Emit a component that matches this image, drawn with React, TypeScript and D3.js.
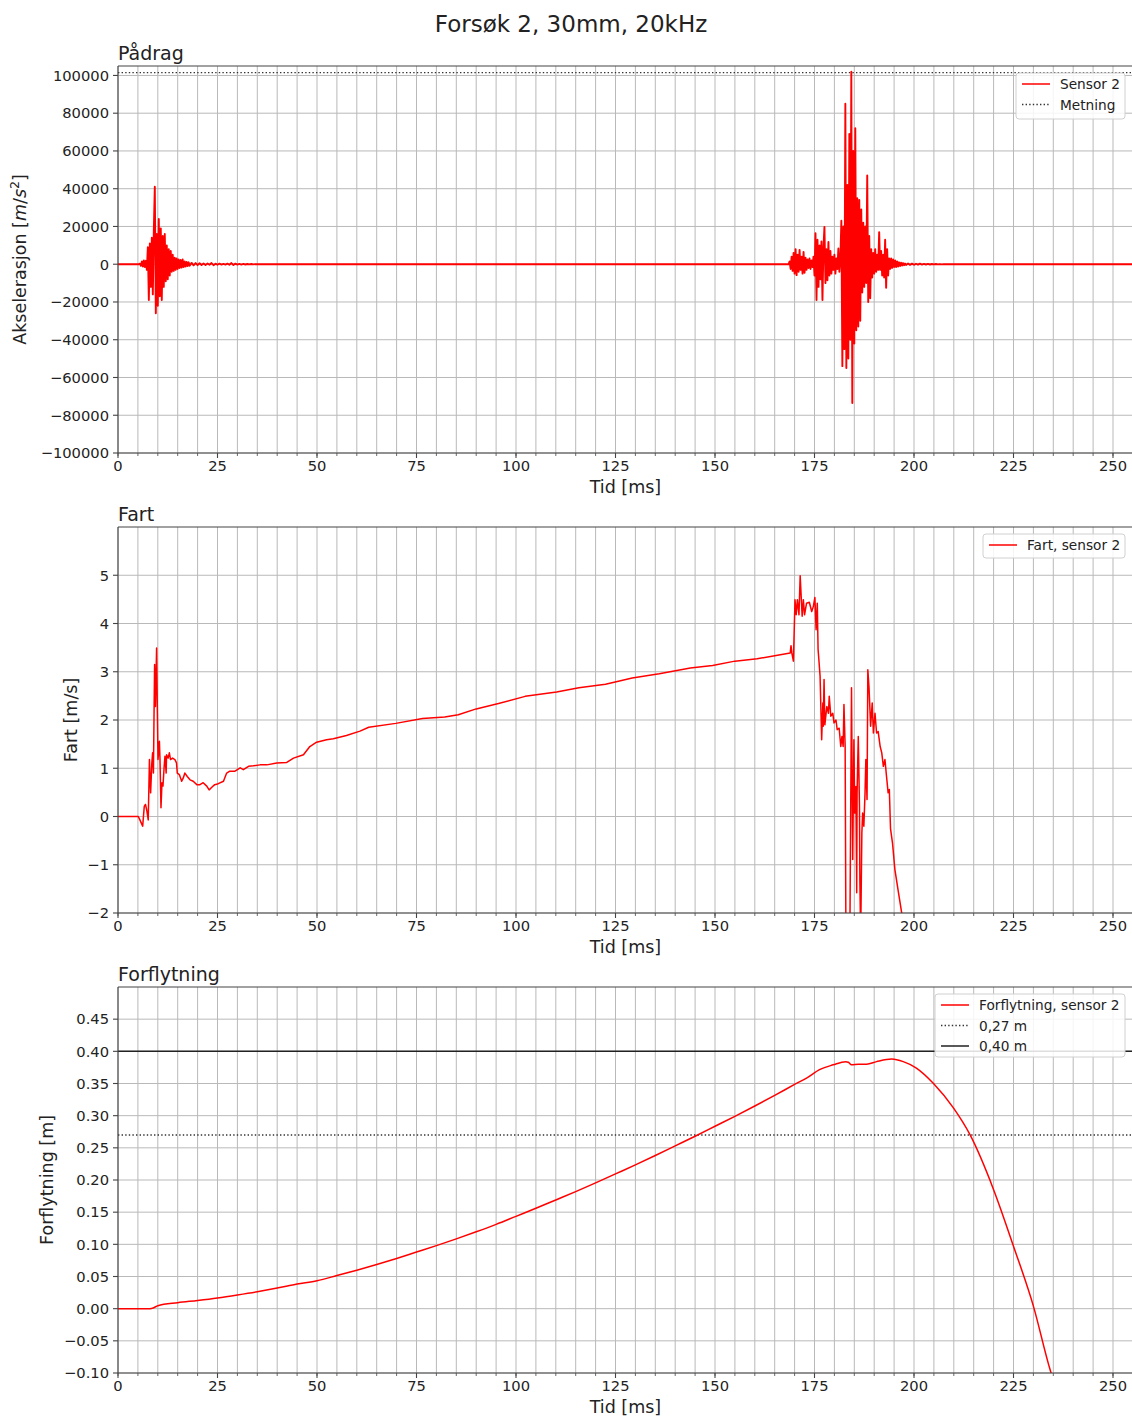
import React from 'react';
import * as d3 from 'd3';

const FIG_TITLE = 'Forsøk 2, 30mm, 20kHz';
const X_LABEL = 'Tid [ms]';
const xDomain: [number, number] = [0, 255];
const xMajorTicks = [0, 25, 50, 75, 100, 125, 150, 175, 200, 225, 250];
const xMinorTicks = d3.range(0, 256, 5);

// ---------- Pådrag (acceleration) ----------
const accBurst1Start = 5.0;
const accBurst1Step = 0.25;
const accBurst1 = [
  0, 0, 300, -800, 1500, -1200, 2000, -1500, 1800, -3000, 9000, -19000, 11000, -12000, 14000, -16000,
  18000, 41000, -26000, 16000, -22000, 24000, -17000, 19000, -19000, 15000, -12000, 16000, -9000, 10000,
  -8000, 8000, -6000, 7000, -4000, 5000, -3500, 3500, -3000, 3000, -2500, 2500, -2000, 2200, -1800, 2500,
  -1500, 1500, -1200, 1200, -1000, 1000, -800,
];
const accTail1Start = 18.5;
const accTail1Step = 0.5;
const accTail1 = [
  700, -600, 600, -500, 500, -400, 400, -400, 350, -300, 600, -500, 300, -300, 300, -200, 200, -200, 300,
  -300, 600, -400, 300, -200, 200, -200, 150, -150, 100, -100, 100, -80, 80, -50, 50, 0,
];
const accBurst2Start = 168.5;
const accBurst2Step = 0.25;
const accBurst2 = [
  0, 1500, -2500, 4000, -3500, 6000, -5000, 8000, -5800, 5000, -4000, 7500, -3000, 4000, -5000, 6500,
  -4500, 3500, -3000, 2500, -2000, 3000, -2500, 2000, -1500, 4000, -6000, 16400, -19000, 13000, -12000,
  10000, -8000, 12000, -19000, 9000, 19800, -10000, 8000, -8500, 11800, -6000, 7000, -5000, 4000, -3000,
  5000, -5000, 3000, -2500, 8300, -4000, 3000, 23000, -54000, 20000, -45000, 85000, -55000, 42000, -50000,
  69000, -40000, 102000, -73500, 60000, -42000, 72000, -35000, 35000, -33000, 34000, -30000, 29000, -15000,
  22000, -12000, 20000, -10000, 47000, -20000, 15000, -18000, 8000, -7000, 6000, -5000, 8000, -4000, 5000,
  -3000, 17000, -3000, 7000, -6000, 5000, -7000, 13000, -12500, 8000, -6000, 3000, -2500, 3000, -2000,
  2500, -1500, 2000, -1500, 1500, -1200, 1000, -1000, 800, -700, 600, -500, 400, -400,
];
const accTail2Start = 198.5;
const accTail2Step = 0.5;
const accTail2 = [
  400, -350, 300, -300, 250, -250, 300, -200, 200, -150, 150, -150, 100, -100, 100, -80, 80, -60, 60, -50,
  50, -40, 40, -30, 30, 0,
];
const accSaturation = 101500;
const accTicks = [-100000, -80000, -60000, -40000, -20000, 0, 20000, 40000, 60000, 80000, 100000];

// ---------- Fart (velocity) ----------
const velT = [
  0, 5.1, 5.5, 6.2, 6.6, 6.9, 7.2, 7.6, 7.9, 8.2, 8.5, 8.7, 8.9, 9.04, 9.2, 9.4, 9.7, 9.9, 10.05, 10.4,
  10.55, 10.8, 11.05, 11.3, 11.6, 11.8, 12.1, 12.2, 12.6, 12.9, 13.2, 13.7, 14.3, 14.7, 14.9, 15.4, 16.0,
  16.4, 16.8, 17.4, 18.1, 18.9, 19.8, 20.6, 21.4, 22.3, 22.9, 23.5, 24.3, 25.2, 26.5, 27.3, 28.1, 29.4,
  30.7, 31.5, 32.8, 34.0, 35.7, 37.4, 39.9, 42.4, 44.1, 46.6, 48.2, 49.9, 52.4, 54.1, 57.4, 60.8, 63.0,
  69.8, 76.5, 82.1, 85.5, 90.0, 95.6, 102.3, 110.2, 115.8, 122.5, 129.2, 136.0, 143.8, 149.4, 155.0, 160.6,
  165.0, 168.9, 169.1, 169.3, 169.7, 170.1, 170.4, 170.7, 171.1, 171.4, 171.9, 172.2, 172.5, 173.0, 173.7,
  174.3, 174.7, 175.1, 175.4, 175.7, 175.9, 176.1, 176.4, 176.8, 177.1, 177.2, 177.4, 177.6, 178.1, 178.5,
  178.7, 179.1, 179.6, 179.9, 180.4, 180.7, 181.2, 181.6, 181.9, 182.2, 182.4, 182.7, 182.9, 183.3, 183.6,
  183.9, 184.3, 184.6, 184.9, 185.1, 185.4, 185.6, 185.7, 186.0, 186.3, 186.4, 186.6, 186.9, 187.1, 187.4,
  187.7, 187.9, 188.2, 188.4, 188.7, 189.1, 189.5, 189.8, 190.2, 190.6, 191.0, 191.5, 191.9, 192.3, 192.7,
  193.1, 193.5, 193.8, 194.1, 194.6, 195.2, 196.1, 196.9, 198.1,
];
const velV = [
  0, 0, -0.07, -0.2, 0.21, 0.25, 0.14, -0.07, 1.18, 0.49, 1.11, 1.32, 0.9, 2.01, 3.15, 2.28, 3.49, 2.14,
  1.18, 1.56, 1.18, 0.18, 0.7, 0.63, 1.04, 1.25, 0.9, 1.28, 1.21, 1.32, 1.18, 1.21, 1.18, 1.11, 0.9, 0.87,
  0.73, 0.8, 0.9, 0.83, 0.76, 0.73, 0.66, 0.66, 0.7, 0.63, 0.55, 0.6, 0.66, 0.68, 0.73, 0.9, 0.94, 0.94,
  1.01, 0.97, 1.04, 1.05, 1.07, 1.07, 1.11, 1.12, 1.21, 1.28, 1.45, 1.54, 1.59, 1.61, 1.68, 1.77, 1.85,
  1.93, 2.03, 2.06, 2.11, 2.23, 2.34, 2.49, 2.58, 2.67, 2.74, 2.87, 2.96, 3.08, 3.13, 3.22, 3.27,
  3.33, 3.39, 3.54, 3.39, 3.22, 4.49, 4.18, 4.49, 4.18, 4.99, 4.15, 4.49, 4.18, 4.42, 4.44,
  4.25, 4.35, 4.54, 3.87, 4.42, 3.46, 3.25, 2.91, 1.59, 2.35, 1.87, 2.84, 1.9, 2.28, 2.14,
  2.49, 2.08, 2.14, 1.94, 2.0, 1.8, 1.83, 1.45, 1.66, 1.45, 2.32, 1.45, -2.6, -2.8, -2.5,
  -2.3, 2.67, -0.89, 1.59, 0.07, 0.62, -1.58, 0.49, 1.66, 0.21, -1.32, -2.5, -0.34, 0.07, -0.2,
  0.49, 1.18, 0.35, 3.04, 2.67, 1.87, 2.35, 1.73, 2.14, 1.73, 1.76, 1.45, 1.32, 1.04, 1.18,
  0.83, 0.49, 0.56, -0.25, -0.55, -1.1, -1.58, -1.99, -2.6,
];
const velTicks = [-2, -1, 0, 1, 2, 3, 4, 5];

// ---------- Forflytning (displacement) ----------
const dispT = [
  0, 8, 9, 10, 15, 20, 25, 30, 35, 40, 45, 50, 55, 60, 65, 70, 75, 80, 85, 90, 95, 100, 105, 110, 115, 120,
  125, 130, 135, 140, 145, 150, 155, 160, 165, 170, 173, 176.4, 179.7, 182.8, 183.5, 184.3, 186, 188.1,
  190.6, 194.4, 197.3, 200.6, 204.9, 209.9, 214.1, 220, 225, 230, 234.2, 235.5,
];
const dispV = [
  0, 0, 0.0015, 0.0045, 0.0093, 0.0128, 0.0167, 0.0213, 0.0263, 0.032, 0.0382, 0.0435, 0.0515, 0.0598,
  0.0686, 0.078, 0.088, 0.098, 0.1085, 0.1195, 0.131, 0.1435, 0.156, 0.169, 0.182, 0.1955, 0.2095, 0.2235,
  0.238, 0.253, 0.268, 0.2835, 0.299, 0.315, 0.3315, 0.3485, 0.3585, 0.372, 0.379, 0.384, 0.383, 0.379,
  0.38, 0.38, 0.384, 0.388, 0.384, 0.374, 0.35, 0.312, 0.27, 0.185, 0.097, 0.004, -0.095, -0.12,
];
const dispRefDotted = 0.27;
const dispRefSolid = 0.4;
const dispTicks = [-0.1, -0.05, 0, 0.05, 0.1, 0.15, 0.2, 0.25, 0.3, 0.35, 0.4, 0.45];

// ---------- helpers ----------
const FONT = 'DejaVu Sans, Verdana, sans-serif';
const X0 = 118;
const PX_PER_MS = 3.98;
const xScale = d3.scaleLinear().domain(xDomain).range([X0, X0 + (xDomain[1] - xDomain[0]) * PX_PER_MS]);

function segPoints(start: number, step: number, values: number[]): [number, number][] {
  return values.map((v, i) => [start + i * step, v]);
}
function zipPoints(t: number[], v: number[]): [number, number][] {
  return t.map((tt, i) => [tt, v[i]]);
}

const accPoints: [number, number][] = [
  [0, 0],
  ...segPoints(accBurst1Start, accBurst1Step, accBurst1),
  ...segPoints(accTail1Start, accTail1Step, accTail1),
  ...segPoints(accBurst2Start, accBurst2Step, accBurst2),
  ...segPoints(accTail2Start, accTail2Step, accTail2),
  [255, 0],
];
const velPoints = zipPoints(velT, velV);
const dispPoints = zipPoints(dispT, dispV);

const minus = (s: string) => s.replace('-', '\u2212');
const fmtInt = (d: number) => minus(String(d));
const fmt2 = (d: number) => minus(d.toFixed(2));

type Series = {
  points: [number, number][];
  color: string;
  width: number;
  dash?: string;
  curve?: d3.CurveFactory;
};
type LegendItem = { label: string; color: string; width: number; dash?: string };

type PanelProps = {
  id: string;
  top: number;
  bottom: number;
  yDomain: [number, number];
  yTicks: number[];
  fmt: (d: number) => string;
  title: string;
  ylabel: React.ReactNode;
  ylabelX: number;
  series: Series[];
  refs: { y: number; color: string; width: number; dash?: string }[];
  legend: { x: number; y: number; w: number; h: number; rowH: number; items: LegendItem[] };
};

const GRID = '#b9b9b9';
const SPINE = '#444';
const TXT = '#222';

function Panel(p: PanelProps) {
  const yScale = d3.scaleLinear().domain(p.yDomain).range([p.bottom, p.top]);
  const [xl, xr] = xScale.range();
  const line = d3
    .line<[number, number]>()
    .x((d) => xScale(d[0]))
    .y((d) => yScale(d[1]));
  return (
    <g>
      <defs>
        <clipPath id={`clip-${p.id}`}>
          <rect x={xl} y={p.top} width={xr - xl} height={p.bottom - p.top} />
        </clipPath>
      </defs>
      {xMinorTicks.map((t) => (
        <line key={`gx${t}`} x1={xScale(t)} x2={xScale(t)} y1={p.top} y2={p.bottom} stroke={GRID} strokeWidth={1} />
      ))}
      {p.yTicks.map((t) => (
        <line key={`gy${t}`} x1={xl} x2={xr} y1={yScale(t)} y2={yScale(t)} stroke={GRID} strokeWidth={1} />
      ))}
      <g clipPath={`url(#clip-${p.id})`}>
        {p.refs.map((r, i) => (
          <line
            key={`r${i}`}
            x1={xl}
            x2={xr}
            y1={yScale(r.y)}
            y2={yScale(r.y)}
            stroke={r.color}
            strokeWidth={r.width}
            strokeDasharray={r.dash}
          />
        ))}
        {p.series.map((s, i) => (
          <path
            key={`s${i}`}
            d={(s.curve ? line.curve(s.curve) : line.curve(d3.curveLinear))(s.points) || ''}
            fill="none"
            stroke={s.color}
            strokeWidth={s.width}
            strokeDasharray={s.dash}
            strokeLinejoin="round"
          />
        ))}
      </g>
      <line x1={xl} x2={xl} y1={p.top} y2={p.bottom} stroke={SPINE} strokeWidth={1.1} />
      <line x1={xl} x2={xr} y1={p.bottom} y2={p.bottom} stroke={SPINE} strokeWidth={1.1} />
      <line x1={xl} x2={xr} y1={p.top} y2={p.top} stroke={SPINE} strokeWidth={1.1} />
      {xMinorTicks.map((t) => (
        <line key={`mx${t}`} x1={xScale(t)} x2={xScale(t)} y1={p.bottom} y2={p.bottom + 3} stroke={SPINE} strokeWidth={0.8} />
      ))}
      {xMajorTicks.map((t) => (
        <g key={`tx${t}`}>
          <line x1={xScale(t)} x2={xScale(t)} y1={p.bottom} y2={p.bottom + 5} stroke={SPINE} strokeWidth={1.1} />
          <text x={xScale(t)} y={p.bottom + 18} textAnchor="middle" fontSize={14.7} fill={TXT} fontFamily={FONT}>
            {t}
          </text>
        </g>
      ))}
      {p.yTicks.map((t) => (
        <g key={`ty${t}`}>
          <line x1={xl - 5} x2={xl} y1={yScale(t)} y2={yScale(t)} stroke={SPINE} strokeWidth={1.1} />
          <text x={xl - 9} y={yScale(t) + 5.3} textAnchor="end" fontSize={14.7} fill={TXT} fontFamily={FONT}>
            {p.fmt(t)}
          </text>
        </g>
      ))}
      <text x={xl} y={p.top - 6} fontSize={19} fill={TXT} fontFamily={FONT}>
        {p.title}
      </text>
      <text x={(xScale(0) + xScale(255)) / 2} y={p.bottom + 40} textAnchor="middle" fontSize={17.5} fill={TXT} fontFamily={FONT}>
        {X_LABEL}
      </text>
      <text
        transform={`translate(${p.ylabelX},${(p.top + p.bottom) / 2}) rotate(-90)`}
        textAnchor="middle"
        fontSize={17.5}
        fill={TXT}
        fontFamily={FONT}
      >
        {p.ylabel}
      </text>
      <rect
        x={p.legend.x}
        y={p.legend.y}
        width={p.legend.w}
        height={p.legend.h}
        rx={3}
        fill="white"
        fillOpacity={0.85}
        stroke="#d0d0d0"
        strokeWidth={1}
      />
      {p.legend.items.map((it, i) => {
        const cy = p.legend.y + 11 + i * p.legend.rowH;
        return (
          <g key={`lg${i}`}>
            <line
              x1={p.legend.x + 6}
              x2={p.legend.x + 34}
              y1={cy}
              y2={cy}
              stroke={it.color}
              strokeWidth={it.width}
              strokeDasharray={it.dash}
            />
            <text x={p.legend.x + 44} y={cy + 5} fontSize={13.7} fill={TXT} fontFamily={FONT}>
              {it.label}
            </text>
          </g>
        );
      })}
    </g>
  );
}

export default function App() {
  const RED = '#ff0000';
  const DOT = '1.4,2.2';
  const accLabel = (
    <>
      <tspan>Akselerasjon [</tspan>
      <tspan fontStyle="italic">m</tspan>
      <tspan>/</tspan>
      <tspan fontStyle="italic">s</tspan>
      <tspan dy={-7} fontSize={12.5}>
        2
      </tspan>
      <tspan dy={7}>]</tspan>
    </>
  );
  return (
    <div style={{ position: 'absolute', left: 0, top: 0, width: 1132, height: 1416, background: 'white' }}>
      <svg width={1132} height={1416} viewBox="0 0 1132 1416" style={{ display: 'block' }}>
        <rect x={0} y={0} width={1132} height={1416} fill="white" />
        <text x={571} y={32} textAnchor="middle" fontSize={23} fill={TXT} fontFamily={FONT}>
          {FIG_TITLE}
        </text>
        <Panel
          id="acc"
          top={66}
          bottom={453}
          yDomain={[-100000, 105000]}
          yTicks={accTicks}
          fmt={fmtInt}
          title="Pådrag"
          ylabel={accLabel}
          ylabelX={26}
          series={[{ points: accPoints, color: RED, width: 1.9 }]}
          refs={[{ y: accSaturation, color: '#333', width: 1.4, dash: DOT }]}
          legend={{
            x: 1016,
            y: 73,
            w: 109,
            h: 46,
            rowH: 20.5,
            items: [
              { label: 'Sensor 2', color: RED, width: 1.5 },
              { label: 'Metning', color: '#333', width: 1.4, dash: DOT },
            ],
          }}
        />
        <Panel
          id="vel"
          top={527}
          bottom={913}
          yDomain={[-2, 6]}
          yTicks={velTicks}
          fmt={fmtInt}
          title="Fart"
          ylabel="Fart [m/s]"
          ylabelX={77}
          series={[{ points: velPoints, color: RED, width: 1.5 }]}
          refs={[]}
          legend={{
            x: 983,
            y: 534,
            w: 142,
            h: 24,
            rowH: 20.5,
            items: [{ label: 'Fart, sensor 2', color: RED, width: 1.5 }],
          }}
        />
        <Panel
          id="disp"
          top={987}
          bottom={1373}
          yDomain={[-0.1, 0.5]}
          yTicks={dispTicks}
          fmt={fmt2}
          title="Forflytning"
          ylabel="Forflytning [m]"
          ylabelX={53}
          series={[{ points: dispPoints, color: RED, width: 1.5, curve: d3.curveMonotoneX }]}
          refs={[
            { y: dispRefDotted, color: '#333', width: 1.4, dash: DOT },
            { y: dispRefSolid, color: '#222', width: 1.5 },
          ]}
          legend={{
            x: 935,
            y: 994,
            w: 190,
            h: 63,
            rowH: 20.5,
            items: [
              { label: 'Forflytning, sensor 2', color: RED, width: 1.5 },
              { label: '0,27 m', color: '#333', width: 1.4, dash: DOT },
              { label: '0,40 m', color: '#222', width: 1.5 },
            ],
          }}
        />
      </svg>
    </div>
  );
}
